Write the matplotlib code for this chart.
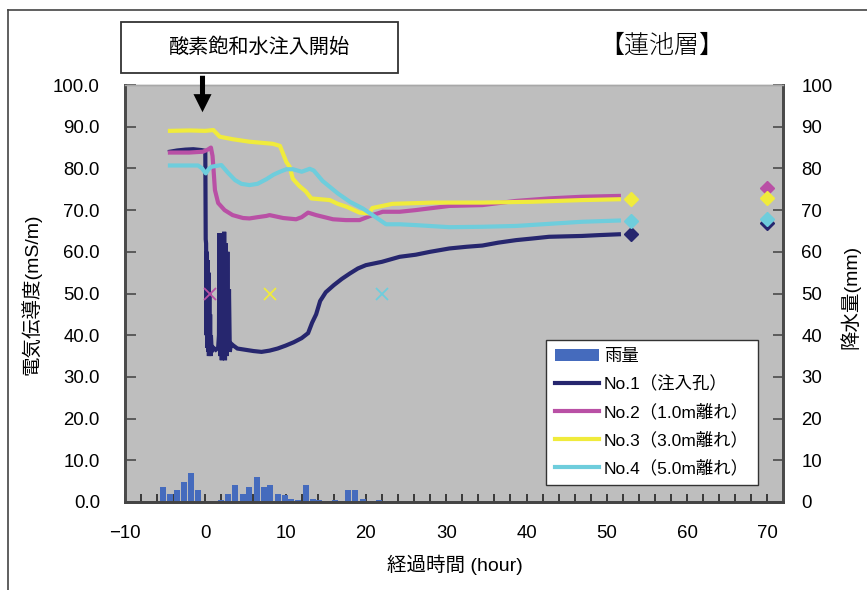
import matplotlib
matplotlib.use("Agg")
import matplotlib.pyplot as plt
from matplotlib.patches import Rectangle, FancyArrowPatch
from matplotlib.lines import Line2D
import numpy as np

plt.rcParams['font.family'] = ['Liberation Sans', 'Noto Sans CJK JP', 'DejaVu Sans']

# ---------------- data ----------------
rain_hours = [-5.3, -4.4, -3.5, -2.7, -1.8, -0.9, 1.9, 2.8, 3.7, 4.7, 5.5, 6.4, 7.3, 8.1,
              9.0, 9.9, 10.7, 11.6, 12.5, 13.4, 14.2, 16.1, 17.8, 18.7, 19.6, 21.6, 50.2]
rain_mm = [3.6, 1.9, 2.9, 4.8, 7.0, 2.9, 0.5, 1.9, 4.1, 1.9, 3.6, 6.0, 3.6, 4.1,
           1.9, 1.7, 0.7, 0.5, 4.1, 0.7, 0.5, 0.5, 2.9, 2.9, 0.7, 0.5, 0.3]

no1_hours = [-4.4, -3.5, -2.5, -1.5, -0.5, 0.0, 0.05, 0.1, 0.15, 0.2, 0.25, 0.3, 0.35, 0.4,
             0.45, 0.5, 0.55, 0.6, 0.65, 0.7, 0.8, 1.0, 1.3, 1.6, 1.7, 1.75, 1.85, 1.95,
             2.05, 2.15, 2.25, 2.35, 2.45, 2.55, 2.65, 2.75, 2.85, 2.95, 3.05, 3.2, 3.5,
             4.0, 5.0, 6.0, 7.0, 8.0, 9.0, 10.0, 11.0, 12.0, 12.8, 13.3, 13.8, 14.3, 15.0,
             16.0, 17.0, 18.0, 19.0, 20.0, 22.0, 24.2, 26.2, 28.0, 30.4, 32.5, 34.5, 36.5,
             38.7, 40.8, 42.8, 44.8, 46.9, 49.0, 51.5]
no1_ec = [84.0, 84.3, 84.5, 84.6, 84.4, 84.2, 63.0, 62.0, 40.0, 60.0, 37.0, 58.0, 36.0, 55.0,
          35.0, 50.0, 36.0, 45.0, 35.0, 40.0, 36.0, 37.0, 36.5, 37.0, 40.0, 64.5, 35.0, 64.5,
          34.0, 63.5, 35.0, 64.8, 34.0, 62.0, 35.0, 60.0, 36.0, 51.0, 36.0, 38.0, 37.5,
          36.8, 36.5, 36.2, 36.0, 36.3, 36.8, 37.5, 38.3, 39.3, 40.5, 43.0, 45.0, 48.2, 50.3,
          52.0, 53.5, 54.8, 56.0, 56.8, 57.6, 58.8, 59.3, 60.0, 60.8, 61.2, 61.5, 62.2,
          62.8, 63.2, 63.6, 63.7, 63.8, 64.0, 64.2]

no2_hours = [-4.4, -2.0, -0.3, 0.3, 0.7, 0.9, 1.0, 1.2, 1.6, 2.4, 3.4, 4.7, 5.5, 6.5, 7.6,
             8.0, 9.7, 11.3, 12.0, 12.8, 13.8, 15.9, 17.5, 19.2, 20.8, 22.1, 24.2, 26.2,
             28.3, 30.4, 34.5, 38.7, 42.8, 46.9, 51.5]
no2_ec = [83.8, 83.8, 84.0, 84.5, 85.0, 83.0, 80.4, 74.8, 71.7, 70.0, 68.8, 68.1, 68.0, 68.3,
          68.6, 68.8, 68.1, 67.8, 68.3, 69.4, 68.8, 67.8, 67.6, 67.6, 68.8, 69.6, 69.6, 70.0,
          70.5, 71.0, 71.2, 72.2, 72.8, 73.2, 73.4]

no3_hours = [-4.4, -2.0, 0.0, 1.0, 1.8, 3.4, 5.5, 8.4, 9.3, 10.1, 10.5, 10.9, 11.7, 12.5,
             13.2, 15.5, 16.5, 17.6, 19.2, 20.4, 20.8, 21.3, 23.3, 28.3, 34.5, 40.7, 46.9, 51.5]
no3_ec = [89.0, 89.1, 89.0, 89.2, 87.6, 87.0, 86.4, 85.9, 85.4, 81.5, 80.4, 77.5, 75.8, 74.5,
          72.8, 72.4, 71.5, 70.8, 69.4, 69.2, 70.5, 70.7, 71.5, 71.8, 71.8, 72.0, 72.4, 72.6]

no4_hours = [-4.4, -0.9, -0.4, 0.06, 0.4, 0.77, 2.0, 2.8, 3.7, 4.5, 5.5, 6.5, 7.6, 8.5, 9.3,
             10.1, 10.9, 12.0, 13.0, 13.5, 14.6, 16.5, 18.0, 19.6, 21.3, 22.5, 24.2, 26.2,
             30.4, 34.5, 38.7, 42.8, 46.9, 51.5]
no4_ec = [80.7, 80.7, 80.0, 78.8, 79.8, 80.4, 80.8, 79.0, 77.2, 76.3, 76.0, 76.3, 77.4, 78.5,
          79.2, 79.8, 79.8, 79.2, 79.9, 79.5, 77.0, 74.0, 72.0, 70.4, 68.2, 66.6, 66.6, 66.4,
          65.9, 66.0, 66.2, 66.7, 67.2, 67.5]

# arrival marks (x) at 50
arrival_hours = [0.6, 8.1, 22.0]
arrival_vals = [50, 50, 50]

# end-point diamonds
end53_hours = [53.0, 53.0, 53.0]
end53_vals = [64.2, 72.7, 67.5]     # No.1, No.3, No.4
end70_hours = [70.0, 70.0, 70.0, 70.0]
end70_vals = [66.8, 75.2, 73.0, 67.8]  # No.1, No.2, No.3, No.4

labels = ['雨量', 'No.1（注入孔）', 'No.2（1.0m離れ）', 'No.3（3.0m離れ）', 'No.4（5.0m離れ）']
c_rain = '#456bbd'
c1, c2, c3, c4 = '#26266e', '#b950a5', '#f0eb3c', '#6ecddc'

# ---------------- figure ----------------
W, H = 867, 590
fig = plt.figure(figsize=(W / 100, H / 100), dpi=100)
fig.patch.set_facecolor('white')

def fx(px):
    return px / W

def fy(py):
    return 1 - py / H

L, R, T, B = 125, 782.7, 85, 502
axr = fig.add_axes([fx(L), fy(B), fx(R - L), (B - T) / H])
ax = axr.twinx()
ax.set_zorder(axr.get_zorder() + 1)
ax.patch.set_visible(False)
axr.set_facecolor('#bebebe')

ax.yaxis.tick_left()
ax.yaxis.set_label_position('left')
axr.yaxis.tick_right()
axr.yaxis.set_label_position('right')

bars = axr.bar(rain_hours, rain_mm, width=0.75, color=c_rain, label=labels[0], zorder=2)

lw = 3.0
l1, = ax.plot(no1_hours, no1_ec, color=c1, lw=lw, label=labels[1], solid_joinstyle='miter')
l2, = ax.plot(no2_hours, no2_ec, color=c2, lw=lw, label=labels[2])
l3, = ax.plot(no3_hours, no3_ec, color=c3, lw=lw, label=labels[3])
l4, = ax.plot(no4_hours, no4_ec, color=c4, lw=lw, label=labels[4])

for xh, yv, c in zip(arrival_hours, arrival_vals, [c2, c3, c4]):
    ax.plot([xh], [yv], linestyle='none', marker='x', ms=8, mew=1.3, color=c)

for xh, yv, c in zip(end53_hours, end53_vals, [c1, c3, c4]):
    ax.plot([xh], [yv], linestyle='none', marker='D', ms=7.5, color=c)
for xh, yv, c in zip(end70_hours, end70_vals, [c1, c2, c3, c4]):
    ax.plot([xh], [yv], linestyle='none', marker='D', ms=7.5, color=c)

xmin, xmax = -10, 71.9
for a in (ax, axr):
    a.set_xlim(xmin, xmax)
    a.set_ylim(0, 100)

ax.set_yticks(np.arange(0, 101, 10))
ax.set_yticklabels([f'{v:.1f}' for v in np.arange(0, 101, 10)])
axr.set_yticks(np.arange(0, 101, 10))
axr.set_yticklabels([f'{v:d}' for v in range(0, 101, 10)])
axr.set_xticks(np.arange(-10, 71, 10))
axr.set_xticks(np.arange(-10, 72, 2), minor=True)
axr.set_xticklabels(['\u221210'] + [str(v) for v in range(0, 71, 10)])

tick_fs = 13.4
spine_c = '#4a4a4a'
ax.tick_params(axis='y', which='both', direction='in', length=8, width=1.2, color=spine_c,
               labelsize=tick_fs, pad=18, left=True, right=False)
ax.tick_params(axis='x', which='both', bottom=False, top=False, labelbottom=False)
axr.tick_params(axis='y', which='both', direction='in', length=7, width=1.2, color=spine_c,
                labelsize=tick_fs, pad=13.5, right=True, left=False)
axr.tick_params(axis='x', which='major', direction='in', length=6, width=1.2, color='#222',
                labelsize=tick_fs, pad=16.5)
axr.tick_params(axis='x', which='minor', direction='in', length=6, width=1.2, color='#222')

for a in (ax, axr):
    a.spines['left'].set_color(spine_c)
    a.spines['left'].set_linewidth(2)
    a.spines['right'].set_color(spine_c)
    a.spines['right'].set_linewidth(2)
    a.spines['bottom'].set_color('#444444')
    a.spines['bottom'].set_linewidth(2)
    a.spines['top'].set_color('#a8a8a8')
    a.spines['top'].set_linewidth(1)

# axis labels
fig.text(fx(31), fy(294), '電気伝導度(mS/m)', rotation=90, ha='center', va='center', fontsize=14)
fig.text(fx(850), fy(297), '降水量(mm)', rotation=90, ha='center', va='center', fontsize=14)
fig.text(fx(455), fy(565), '経過時間 (hour)', ha='center', va='center', fontsize=14)

# title
fig.text(fx(662), fy(46), '【蓮池層】', ha='center', va='center', fontsize=18, fontweight='light')

# annotation box and arrow
fig.add_artist(Rectangle((fx(121), fy(72.7)), fx(398 - 121), (72.7 - 21.7) / H,
                         transform=fig.transFigure, facecolor='white', edgecolor='#333333',
                         lw=1.3, zorder=10))
fig.text(fx(259.5), fy(47.5), '酸素飽和水注入開始', ha='center', va='center', fontsize=14.5, zorder=11)
fig.add_artist(FancyArrowPatch((fx(202.5), fy(73)), (fx(202.5), fy(115)),
                               transform=fig.transFigure,
                               arrowstyle='simple,head_width=1.0,head_length=1.0,tail_width=0.28',
                               mutation_scale=13, color='black', lw=0, zorder=10))

# outer frame
fig.add_artist(Line2D([fx(8), 1], [fy(10), fy(10)], transform=fig.transFigure, color='#444444', lw=1.2))
fig.add_artist(Line2D([fx(8), fx(8)], [fy(10), 0], transform=fig.transFigure, color='#444444', lw=1.2))

# legend
leg = ax.legend([bars, l1, l2, l3, l4], labels, loc='lower left',
                bbox_to_anchor=(0.640, 0.041), borderaxespad=0, fontsize=12.5,
                frameon=True, fancybox=False, framealpha=1, edgecolor='#333333',
                handlelength=2.55, handletextpad=0.3, labelspacing=0.66, borderpad=0.5)
leg.get_frame().set_linewidth(1.0)

fig.savefig('out.png', dpi=100)
